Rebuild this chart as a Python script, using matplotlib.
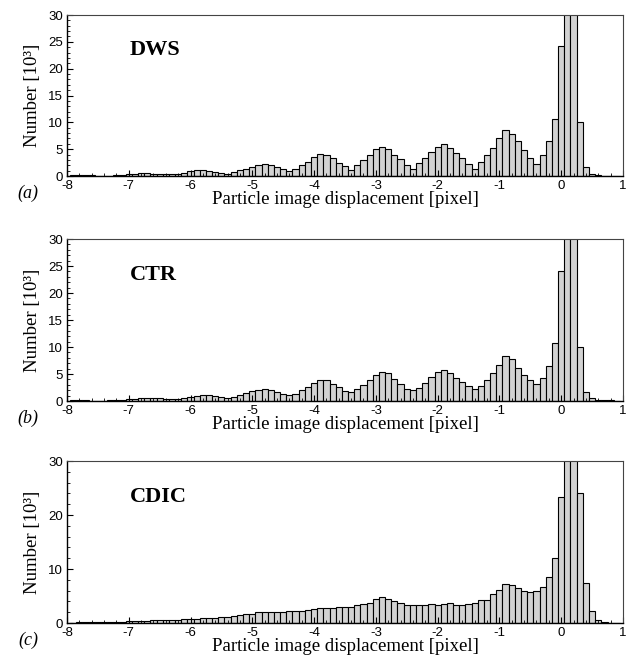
import numpy as np
import matplotlib
matplotlib.use('Agg')
import matplotlib.pyplot as plt
from matplotlib.ticker import MultipleLocator

plt.rcParams['axes.unicode_minus'] = False

# bin centres, pixel (bin width 0.1)
bins = np.round(np.arange(-7.9, 0.95, 0.1), 1)

# counts [10^3]; 0.1 and 0.2 bins run off the top
dws = [0.15, 0.15, 0.15, 0.1, 0.05, 0.02, 0.05, 0.15, 0.2, 0.3,
       0.4, 0.55, 0.55, 0.4, 0.3, 0.3, 0.35, 0.45, 0.65, 0.9,
       1.05, 1.05, 1.0, 0.75, 0.55, 0.45, 0.7, 1.05, 1.35, 1.75,
       2.1, 2.2, 2.0, 1.7, 1.25, 0.9, 1.3, 2.0, 2.6, 3.5,
       4.1, 4.0, 3.3, 2.5, 1.8, 1.1, 2.0, 3.0, 4.0, 5.0,
       5.5, 5.0, 4.0, 3.1, 2.0, 1.4, 2.4, 3.4, 4.4, 5.5,
       5.9, 5.3, 4.3, 3.4, 2.3, 1.4, 2.7, 4.0, 5.3, 7.0,
       8.6, 7.8, 6.5, 4.8, 3.4, 2.2, 4.0, 6.5, 10.7, 24.2,
       40, 36, 10.0, 1.6, 0.3, 0.1, 0.05, 0.05, 0.02]

ctr = [0.1, 0.1, 0.1, 0.08, 0.08, 0.08, 0.1, 0.15, 0.25, 0.3,
       0.45, 0.55, 0.55, 0.5, 0.5, 0.3, 0.3, 0.4, 0.5, 0.75,
       0.95, 1.05, 1.05, 0.95, 0.75, 0.55, 0.7, 1.1, 1.4, 1.85,
       2.1, 2.3, 2.0, 1.7, 1.35, 1.05, 1.35, 2.0, 2.65, 3.3,
       3.95, 3.8, 3.2, 2.6, 1.9, 1.7, 2.2, 2.9, 3.9, 4.9,
       5.4, 5.1, 4.0, 3.1, 2.3, 2.0, 2.5, 3.3, 4.4, 5.4,
       5.7, 5.2, 4.3, 3.5, 2.7, 2.2, 2.8, 3.9, 5.2, 6.7,
       8.3, 7.7, 6.2, 4.9, 3.8, 3.1, 4.3, 6.4, 10.7, 24.0,
       40, 36, 10.0, 1.6, 0.5, 0.25, 0.1, 0.1, 0.05]

cdic = [0.03, 0.1, 0.12, 0.12, 0.15, 0.15, 0.2, 0.2, 0.25, 0.3,
        0.3, 0.35, 0.35, 0.5, 0.5, 0.5, 0.55, 0.55, 0.7, 0.75,
        0.8, 0.85, 0.95, 1.0, 1.05, 1.15, 1.3, 1.45, 1.6, 1.75,
        1.95, 2.0, 2.0, 2.05, 2.1, 2.15, 2.2, 2.3, 2.5, 2.65,
        2.7, 2.7, 2.8, 2.9, 2.9, 3.0, 3.3, 3.5, 3.8, 4.4,
        4.75, 4.4, 4.0, 3.8, 3.4, 3.4, 3.4, 3.4, 3.6, 3.4,
        3.6, 3.8, 3.4, 3.4, 3.6, 3.8, 4.2, 4.3, 5.3, 6.1,
        7.3, 7.1, 6.4, 6.0, 5.7, 5.9, 6.6, 8.5, 12.1, 23.3,
        40, 36, 24.0, 7.5, 2.2, 0.6, 0.25, 0.05, 0.0]

panels = [('DWS', '(a)', dws, 5, 1), ('CTR', '(b)', ctr, 5, 1), ('CDIC', '(c)', cdic, 10, 2)]
# axes boxes in figure fraction: left, bottom, width, height
boxes = [[0.1063, 0.7329, 0.8825, 0.2443],
         [0.1063, 0.3915, 0.8825, 0.2458],
         [0.1063, 0.0546, 0.8825, 0.2458]]

fig = plt.figure(figsize=(6.3, 6.59), dpi=100)

for (name, tag, counts, ymaj, ymin), box in zip(panels, boxes):
    ax = fig.add_axes(box)
    ax.bar(bins, counts, width=0.1, color='#d2d2d2', edgecolor='black', linewidth=0.8)
    ax.set_xlim(-8, 1)
    ax.set_ylim(0, 30)
    ax.xaxis.set_major_locator(MultipleLocator(1))
    ax.xaxis.set_minor_locator(MultipleLocator(0.2))
    ax.yaxis.set_major_locator(MultipleLocator(ymaj))
    ax.yaxis.set_minor_locator(MultipleLocator(ymin))
    ax.tick_params(which='both', direction='in', top=False, right=False, labelsize=9.5)
    ax.tick_params(axis='x', pad=3)
    ax.tick_params(axis='y', pad=3)
    ax.tick_params(which='major', length=4, width=0.8)
    ax.tick_params(which='minor', length=2, width=0.6)
    for lab in ax.get_xticklabels() + ax.get_yticklabels():
        lab.set_family('Liberation Sans')
    for s in ['top', 'right']:
        ax.spines[s].set_linewidth(0.8)
        ax.spines[s].set_color('#444444')
    for s in ['bottom', 'left']:
        ax.spines[s].set_linewidth(1.0)
    ax.set_xlabel('Particle image displacement [pixel]', family='Liberation Serif',
                  fontsize=13.5, labelpad=-1)
    ax.set_ylabel('Number [10³]', family='Liberation Serif', fontsize=13.5, labelpad=5)
    ax.text(0.113, 0.78, name, transform=ax.transAxes, family='Liberation Serif',
            fontsize=16, fontweight='bold', va='center', ha='left')
    ax.text(-0.07, -0.11, tag, transform=ax.transAxes, family='Liberation Serif',
            fontsize=13, style='italic', va='center', ha='center')

fig.savefig('out.png', dpi=100)
